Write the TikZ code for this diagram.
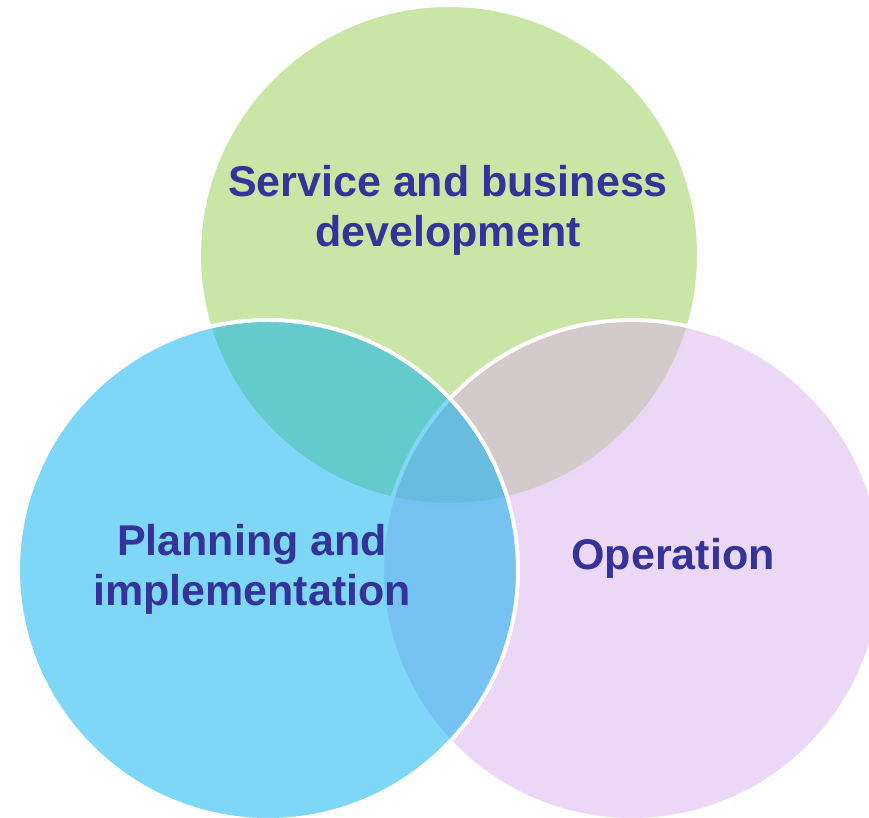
\documentclass[tikz,border=0pt]{standalone}
\usepackage{fontspec}
\setmainfont{Liberation Sans}
\definecolor{devgreen}{RGB}{201,230,167}
\definecolor{planblue}{RGB}{0,175,240}
\definecolor{opspink}{RGB}{219,175,239}
\definecolor{labelblue}{RGB}{51,51,153}
\tikzset{ring/.style={circle,draw=white,line width=4pt,minimum size=500pt,inner sep=0pt},
         seethru/.style={ring,fill opacity=0.5},
         caption/.style={align=center,text=labelblue,font=\fontsize{43}{50}\selectfont\bfseries,anchor=base},
        }

\begin{document}
\begin{tikzpicture}[x=1pt,y=1pt]
        \useasboundingbox (0,0) rectangle (869,818);
        \node[ring,fill=devgreen](dev)at(449,563){};
        \node[seethru,fill=opspink](ops)at(632,248){};
        \node[seethru,fill=planblue](plan)at(268,248){};

        \node[caption](devtext)at(448,571){Service and business\\development};
        \node[caption](plantext)at(252,212){Planning and\\implementation};
        \node[caption](opstext)at(673,248){Operation};
    \end{tikzpicture}
\end{document}
